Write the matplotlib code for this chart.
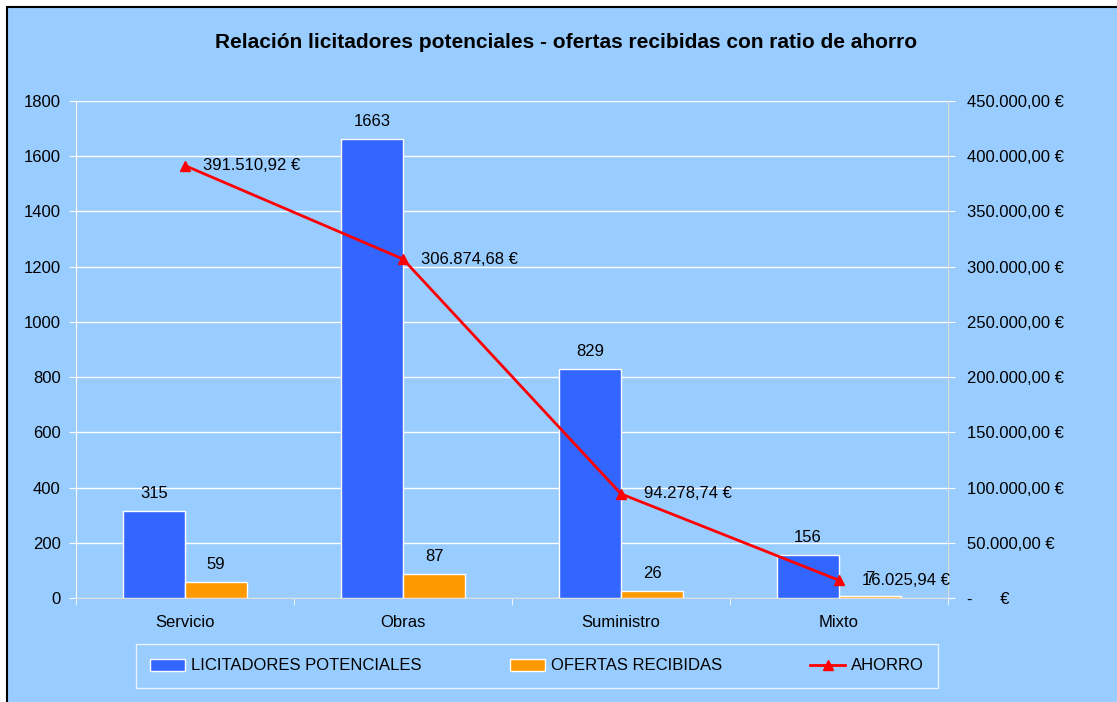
import matplotlib.pyplot as plt
from matplotlib.patches import Rectangle
from matplotlib.ticker import FuncFormatter, FixedLocator
import numpy as np

plt.rcParams['font.family'] = ['Liberation Sans', 'DejaVu Sans']

categorias = ['Servicio', 'Obras', 'Suministro', 'Mixto']
licitadores = [315, 1663, 829, 156]
ofertas = [59, 87, 26, 7]
ahorro = [391510.92, 306874.68, 94278.74, 16025.94]

fondo = '#99CCFF'
W, H = 1117, 702
fig = plt.figure(figsize=(W / 100, H / 100), dpi=100, facecolor='white')
marco = Rectangle((7 / W, -0.01), 1.02, 1 - 7 / H + 0.01, transform=fig.transFigure,
                  facecolor=fondo, edgecolor='black', linewidth=1.5, zorder=-10)
fig.add_artist(marco)

ax = fig.add_axes([76 / W, 1 - 598 / H, (948 - 76) / W, (598 - 101) / H])
ax.patch.set_alpha(0)

x = np.arange(len(categorias))
bw = 0.285
b1 = ax.bar(x - bw / 2, licitadores, bw, color='#3366FF', edgecolor='white', linewidth=1,
            label='LICITADORES POTENCIALES', zorder=3)
b2 = ax.bar(x + bw / 2, ofertas, bw, color='#FF9900', edgecolor='white', linewidth=1,
            label='OFERTAS RECIBIDAS', zorder=3)

for rects, vals in ((b1, licitadores), (b2, ofertas)):
    for r, v in zip(rects, vals):
        ax.annotate(str(v), (r.get_x() + r.get_width() / 2, r.get_height()),
                    xytext=(0, 7), textcoords='offset points', ha='center', va='bottom',
                    fontsize=12, zorder=5)

ax.set_xlim(-0.5, len(categorias) - 0.5)
ax.set_ylim(0, 1800)
ax.set_yticks(np.arange(0, 1801, 200))
ax.grid(axis='y', color='white', linewidth=1, zorder=1)
ax.set_xticks(x)
ax.set_xticklabels(categorias, fontsize=12)
ax.xaxis.set_minor_locator(FixedLocator(np.arange(-0.5, len(categorias), 1)))
ax.tick_params(axis='x', which='major', length=0, pad=12)
ax.tick_params(axis='x', which='minor', length=5, color='white', direction='out')
ax.tick_params(axis='y', labelsize=12, length=5, color='white', pad=6)
for s in ('top', 'right'):
    ax.spines[s].set_visible(False)
ax.spines['left'].set_color('white')
ax.spines['bottom'].set_color('#DDDDDD')

ax2 = ax.twinx()
ln, = ax2.plot(x, ahorro, color='#FF0000', linewidth=2, marker='^', markersize=7,
               label='AHORRO', zorder=4)
ax2.set_ylim(0, 450000)
ax2.set_yticks(np.arange(0, 450001, 50000))


def euros(v, pos):
    if v == 0:
        return '-      €'
    return f'{v:,.2f}'.replace(',', 'X').replace('.', ',').replace('X', '.') + ' €'


ax2.yaxis.set_major_formatter(FuncFormatter(euros))
ax2.tick_params(axis='y', labelsize=12, length=5, color='white', pad=9)
for s in ('top', 'left', 'bottom'):
    ax2.spines[s].set_visible(False)
ax2.spines['right'].set_color('#DDDDDD')

for xi, v in zip(x, ahorro):
    ax2.annotate(euros(v, None), (xi, v), xytext=(48, 0), textcoords='offset points',
                 ha='center', va='center', fontsize=12, zorder=5)

fig.text(0.507, 1 - 42 / H, 'Relación licitadores potenciales - ofertas recibidas con ratio de ahorro',
         ha='center', va='center', fontsize=15, fontweight='bold')

leg = fig.legend(handles=[b1, b2, ln], loc='center', ncol=3,
                 bbox_to_anchor=(537 / W, 1 - 666 / H), frameon=True,
                 prop={'size': 12},
                 fancybox=False, facecolor=fondo, edgecolor='white', columnspacing=5.3,
                 handlelength=2.1, handletextpad=0.35, borderpad=0.85)
leg.get_frame().set_linewidth(1)

fig.savefig('out.png', dpi=100, facecolor='white')
